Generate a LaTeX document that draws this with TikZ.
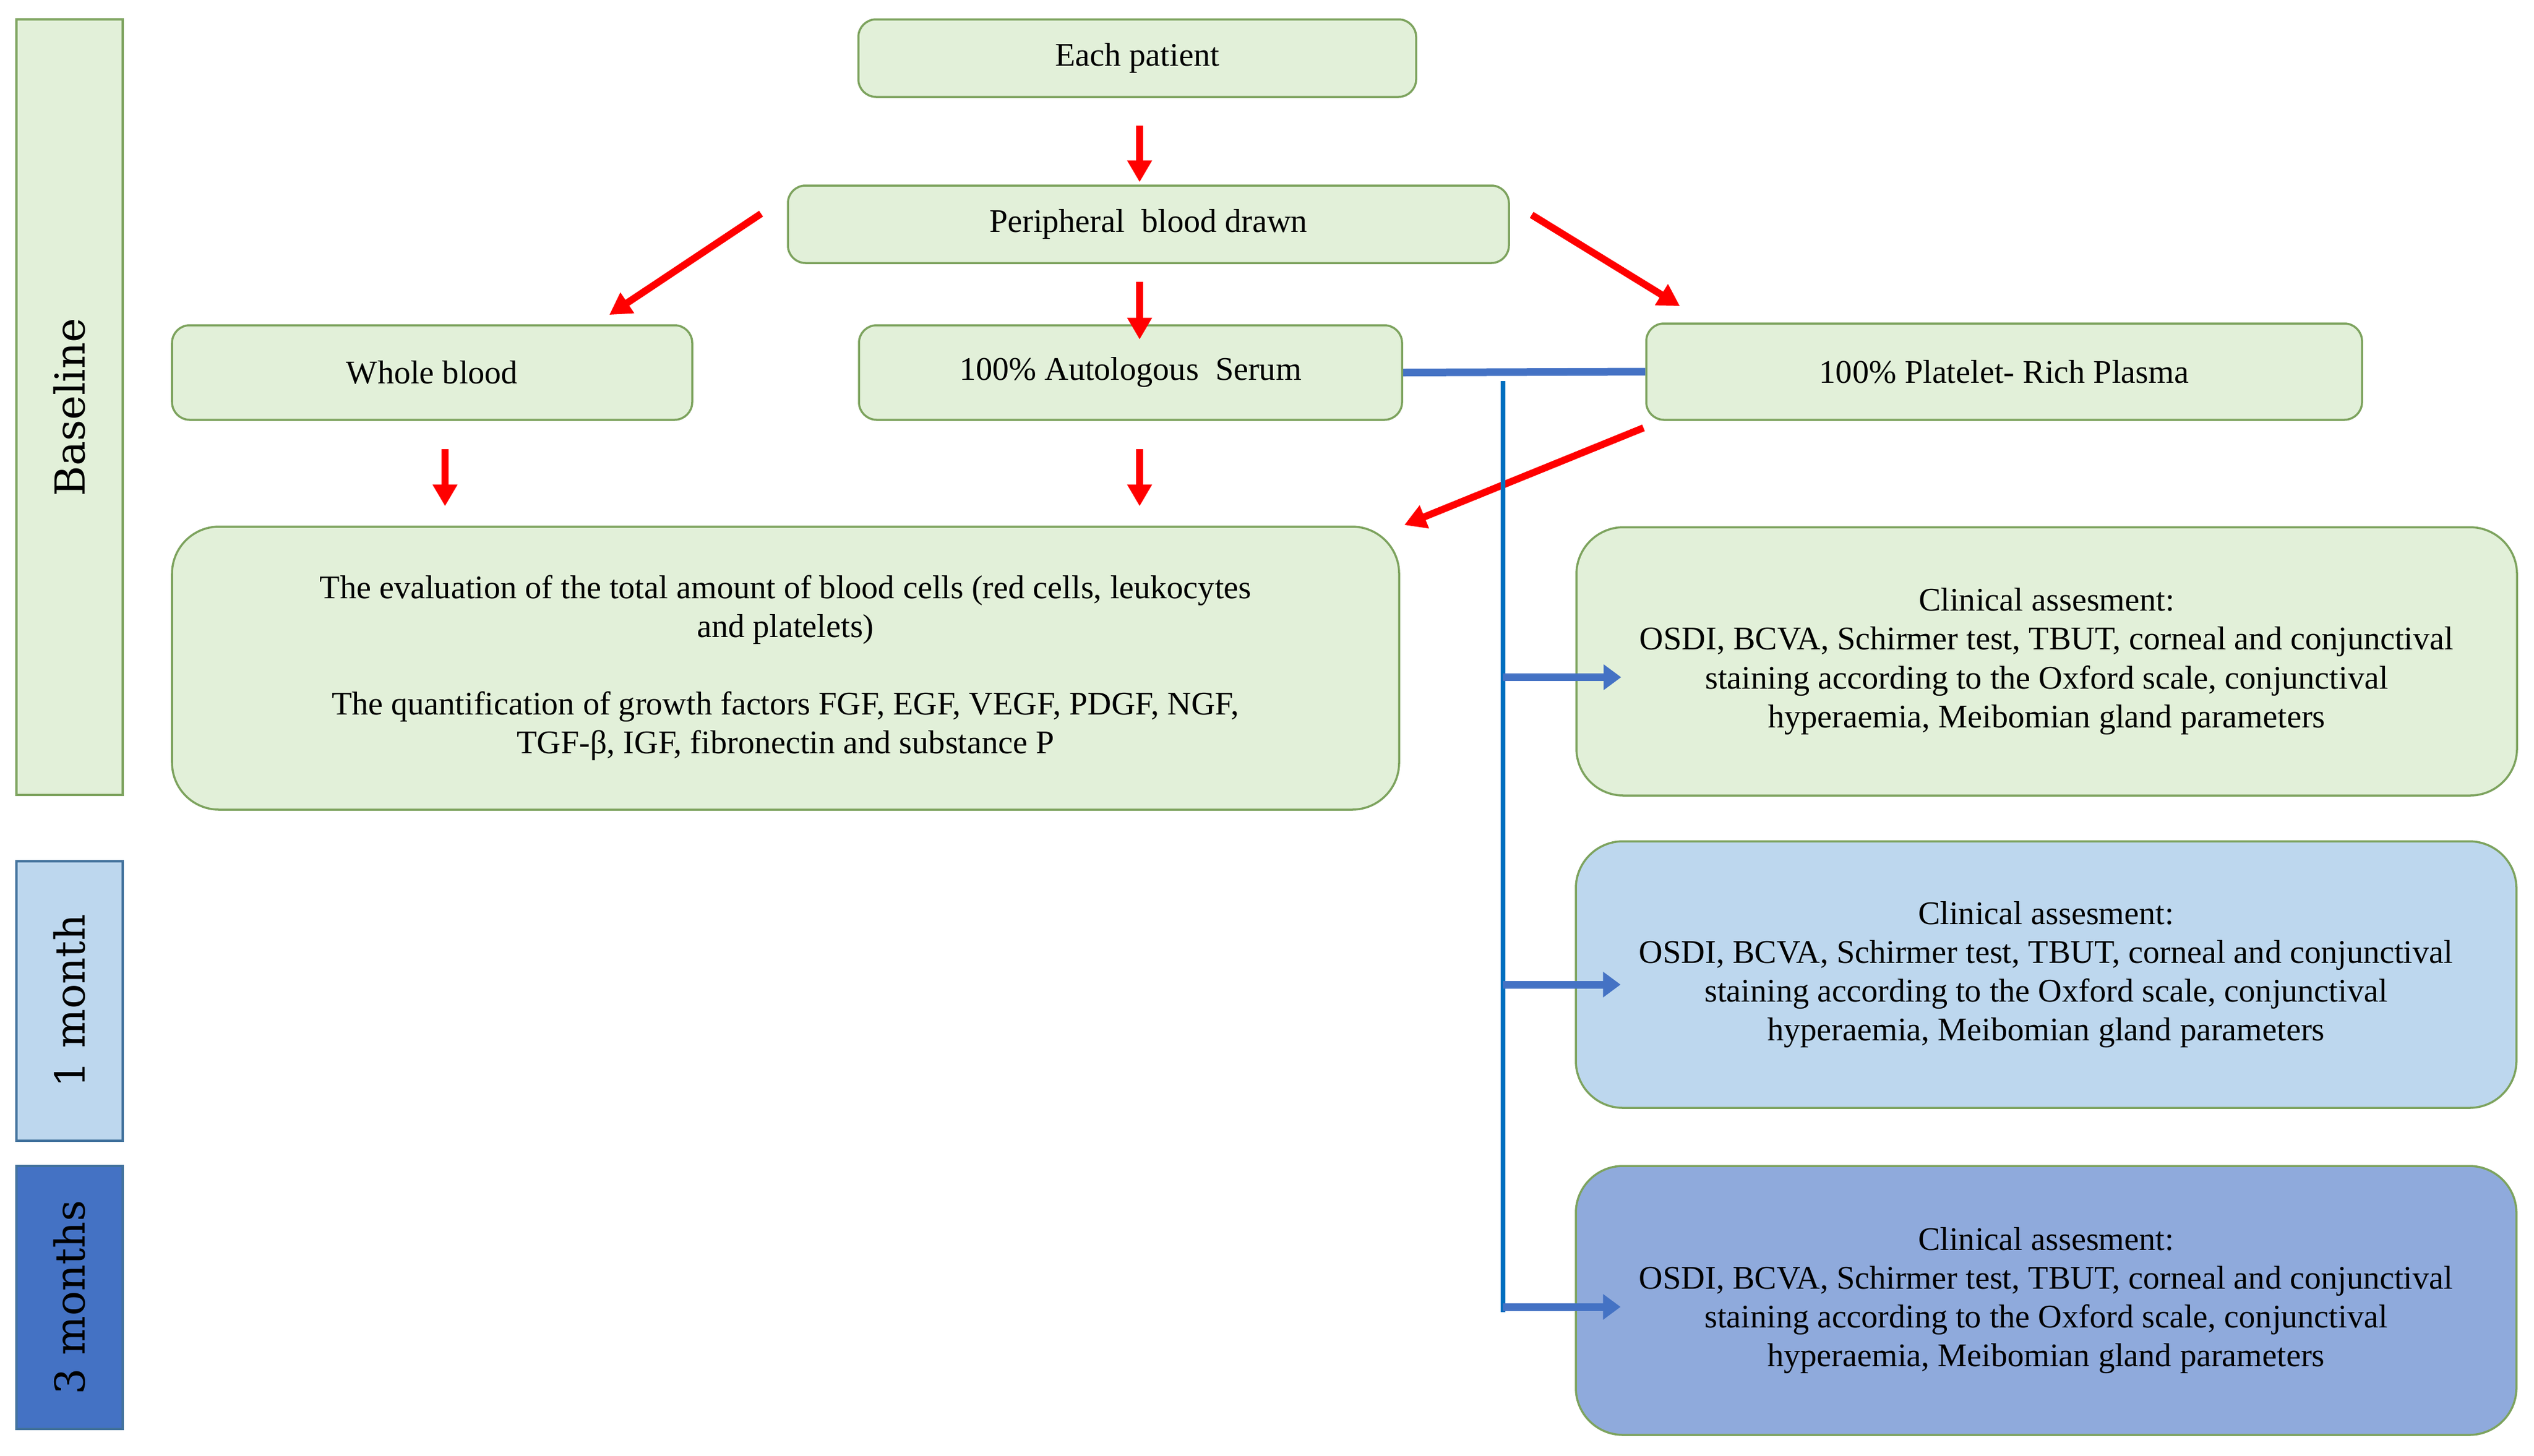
\documentclass[tikz,border=0pt]{standalone}
\usepackage{fontspec}
\setmainfont{Liberation Serif}
\newfontfamily\sidefont{DejaVu Serif}
\usetikzlibrary{arrows.meta}

\definecolor{boxgreen}{HTML}{E2F0D9}
\definecolor{linegreen}{HTML}{7DA35E}
\definecolor{lightblue}{HTML}{BDD7EE}
\definecolor{midblue}{HTML}{8FAADC}
\definecolor{deepblue}{HTML}{4472C4}
\definecolor{darkblue}{HTML}{41719C}
\definecolor{spineblue}{HTML}{0070C0}

\newcommand{\assessment}{Clinical assesment:\\OSDI, BCVA, Schirmer test, TBUT, corneal and conjunctival\\staining according to the Oxford scale, conjunctival\\hyperaemia, Meibomian gland parameters}

\begin{document}
\begin{tikzpicture}[
    box/.style={rectangle, rounded corners=0.3cm, draw=linegreen, line width=1pt,
        fill=boxgreen, align=center, inner sep=0pt,
        font=\fontsize{16}{18.8}\selectfont},
    bigbox/.style={box, rounded corners=0.8cm},
    period/.style={rectangle, rotate=90, line width=1pt, minimum height=1.81cm,
        inner sep=0pt, font=\sidefont\fontsize{20}{24}\selectfont},
    redarrow/.style={draw=red, line width=0.12cm,
        -{Triangle[length=0.37cm,width=0.4cm]}},
    bluearrow/.style={draw=deepblue, line width=0.13cm,
        -{Triangle[length=0.3cm,width=0.42cm]}},
    link/.style={draw=deepblue, line width=0.13cm},
    spine/.style={draw=spineblue, line width=0.08cm}
]
    \useasboundingbox (0,0) rectangle (43.16,-24.79);

    % time points
    \node[period, fill=boxgreen, draw=linegreen, minimum width=13.21cm] (baseline) at (1.185,-6.935) {Baseline};
    \node[period, fill=lightblue, draw=darkblue, minimum width=4.76cm] (month1) at (1.185,-17.05) {1 month};
    \node[period, fill=deepblue, draw=darkblue, minimum width=4.48cm] (month3) at (1.185,-22.10) {3 months};

    % blood processing
    \node[box, minimum width=9.5cm, minimum height=1.32cm] (patient) at (19.37,-0.99) {Each patient};
    \node[box, minimum width=12.28cm, minimum height=1.32cm] (drawn) at (19.56,-3.82) {Peripheral\ \ blood drawn};
    \node[box, minimum width=8.86cm, minimum height=1.61cm] (whole) at (7.36,-6.345) {Whole blood};
    \node[box, minimum width=9.25cm, minimum height=1.61cm] (serum) at (19.255,-6.345) {100\% Autologous\ \ Serum};
    \node[box, minimum width=12.19cm, minimum height=1.64cm] (prp) at (34.135,-6.33) {100\% Platelet- Rich Plasma};
    \node[bigbox, minimum width=20.9cm, minimum height=4.82cm] (eval) at (13.38,-11.38)
        {The evaluation of the total amount of blood cells (red cells, leukocytes\\and platelets)\\[18.8pt]
         The quantification of growth factors FGF, EGF, VEGF, PDGF, NGF,\\TGF-β, IGF, fibronectin and substance P};

    % clinical visits
    \node[bigbox, minimum width=16.02cm, minimum height=4.57cm] (clin1) at (34.86,-11.265) {\assessment};
    \node[bigbox, fill=lightblue, minimum width=16.02cm, minimum height=4.54cm] (clin2) at (34.85,-16.6) {\assessment};
    \node[bigbox, fill=midblue, minimum width=16.02cm, minimum height=4.58cm] (clin3) at (34.85,-22.15) {\assessment};

    \draw[redarrow, shorten <=0.47cm, shorten >=0.04cm] ([xshift=0.04cm]patient.south) -- ([xshift=0.04cm]patient.south |- drawn.north);
    \draw[redarrow, shorten <=0.3cm, shorten >=-0.26cm] ([xshift=0.04cm]drawn.south -| patient.south) -- ([xshift=0.04cm]serum.north -| patient.south);
    \draw[redarrow] ([xshift=-0.44cm,yshift=0.18cm]drawn.west) -- ([xshift=-1.43cm,yshift=0.16cm]whole.north east);
    \draw[redarrow] ([xshift=0.37cm,yshift=0.16cm]drawn.east) -- ([xshift=0.59cm,yshift=0.28cm]prp.north west);
    \draw[redarrow, shorten <=0.48cm, shorten >=0.33cm] ([xshift=0.22cm]whole.south) -- ([xshift=0.22cm]whole.south |- eval.north);
    \draw[redarrow, shorten <=0.48cm, shorten >=0.33cm] ([xshift=0.04cm]serum.south -| patient.south) -- ([xshift=0.04cm]eval.north -| patient.south);
    \draw[redarrow] ([xshift=-0.03cm,yshift=-0.12cm]prp.south west) -- ([xshift=0.07cm,yshift=0.01cm]eval.north east);

    \coordinate (top) at (25.60,-6.49);
    \coordinate (bottom) at (25.60,-22.35);
    \draw[link] (serum.east) -- (prp.west);
    \draw[spine] (top) -- (bottom);
    \draw[bluearrow, shorten >=-0.78cm] ([yshift=-0.27cm]clin1.west -| top) -- ([yshift=-0.27cm]clin1.west);
    \draw[bluearrow, shorten >=-0.78cm] ([yshift=-0.17cm]clin2.west -| top) -- ([yshift=-0.17cm]clin2.west);
    \draw[bluearrow, shorten >=-0.78cm] ([yshift=-0.11cm]clin3.west -| top) -- ([yshift=-0.11cm]clin3.west);
\end{tikzpicture}
\end{document}
